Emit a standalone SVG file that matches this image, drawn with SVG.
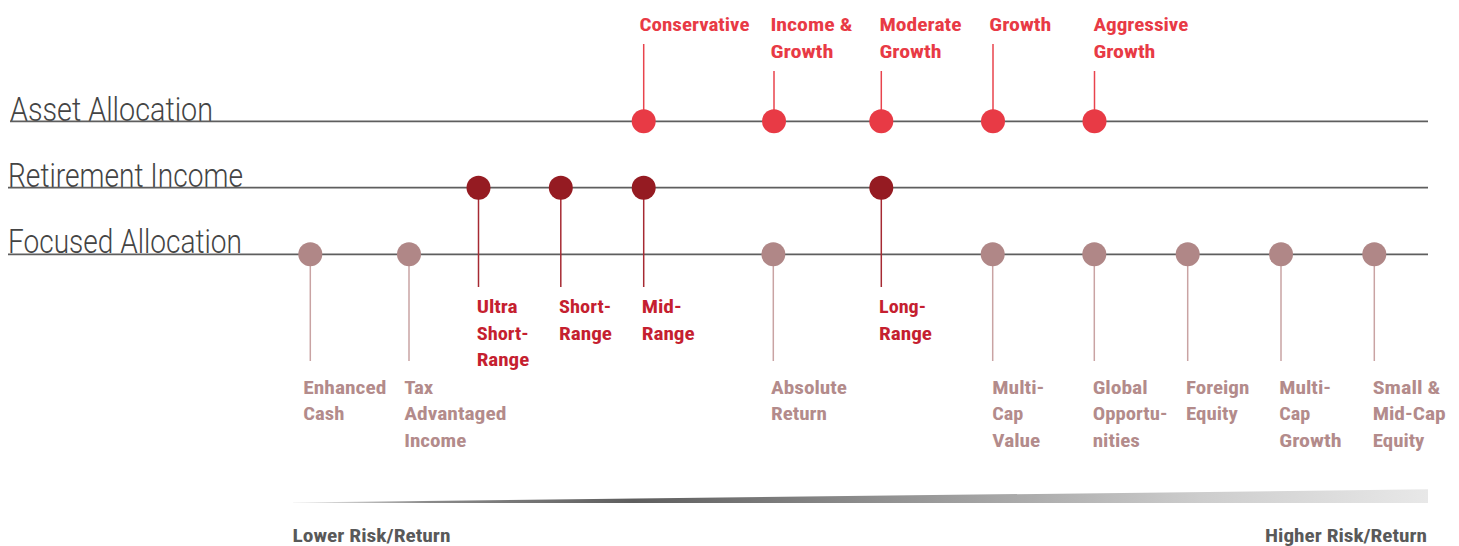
<svg xmlns="http://www.w3.org/2000/svg" width="1459" height="546" viewBox="0 0 1459 546">
<style>
.title{font-family:Roboto,"Liberation Sans",sans-serif;font-weight:300;font-size:33px;fill:#444444}
.lbl{font-family:"Roboto Condensed","Liberation Sans Narrow",Roboto,"Liberation Sans",sans-serif;font-weight:700;font-size:19px}
.axis{stroke:#5e5e5e;stroke-width:1.7;fill:none}
.aa{fill:#e83a45}
.ri{fill:#951b22}
.ril{fill:#c51f30}
.fa{fill:#b08787}
.fal{fill:#b38b8b}
.sa{stroke:#e8434d;stroke-width:1.5}
.sr{stroke:#a62a33;stroke-width:1.5}
.sf{stroke:#c9a3a3;stroke-width:1.5}
.rr{font-family:"Roboto Condensed","Liberation Sans Narrow",Roboto,"Liberation Sans",sans-serif;font-weight:700;font-size:18.5px;fill:#595959}
</style>
<defs>
<linearGradient id="risk" x1="293" y1="0" x2="1428" y2="0" gradientUnits="userSpaceOnUse">
<stop offset="0" stop-color="#f0f0f0"/>
<stop offset="0.12" stop-color="#8a8a8a"/>
<stop offset="0.3" stop-color="#5e5e5e"/>
<stop offset="0.5" stop-color="#8c8c8c"/>
<stop offset="0.8" stop-color="#cdcdcd"/>
<stop offset="1" stop-color="#e8e8e8"/>
</linearGradient>
</defs>

<g id="row-titles">
<text class="title" x="10" y="121" textLength="203" lengthAdjust="spacingAndGlyphs">Asset Allocation</text>
<text class="title" x="8" y="187" textLength="235" lengthAdjust="spacingAndGlyphs">Retirement Income</text>
<text class="title" x="8" y="253" textLength="234" lengthAdjust="spacingAndGlyphs">Focused Allocation</text>
</g>

<g id="connectors">
<line class="axis" x1="10" y1="121.3" x2="1428" y2="121.3"/>
<line class="axis" x1="8" y1="187.7" x2="1428" y2="187.7"/>
<line class="axis" x1="8" y1="254.3" x2="1428" y2="254.3"/>
<line class="sa" x1="643.7" y1="44" x2="643.7" y2="121"/>
<line class="sa" x1="774" y1="71" x2="774" y2="121"/>
<line class="sa" x1="881.3" y1="71" x2="881.3" y2="121"/>
<line class="sa" x1="993" y1="44" x2="993" y2="121"/>
<line class="sa" x1="1094.5" y1="71" x2="1094.5" y2="121"/>
<line class="sr" x1="478.5" y1="188" x2="478.5" y2="287"/>
<line class="sr" x1="560.8" y1="188" x2="560.8" y2="287"/>
<line class="sr" x1="643.7" y1="188" x2="643.7" y2="287"/>
<line class="sr" x1="881.3" y1="188" x2="881.3" y2="287"/>
<line class="sf" x1="310.3" y1="254" x2="310.3" y2="361"/>
<line class="sf" x1="409" y1="254" x2="409" y2="361"/>
<line class="sf" x1="773.3" y1="254" x2="773.3" y2="361"/>
<line class="sf" x1="992.7" y1="254" x2="992.7" y2="361"/>
<line class="sf" x1="1094.3" y1="254" x2="1094.3" y2="361"/>
<line class="sf" x1="1187.7" y1="254" x2="1187.7" y2="361"/>
<line class="sf" x1="1281" y1="254" x2="1281" y2="361"/>
<line class="sf" x1="1374.3" y1="254" x2="1374.3" y2="361"/>
</g>

<g id="aa-conservative"><circle class="aa" cx="643.7" cy="121.3" r="12"/><text class="lbl aa" x="639.5" y="30.5" textLength="110" lengthAdjust="spacingAndGlyphs">Conservative</text></g>
<g id="aa-income-growth"><circle class="aa" cx="774" cy="121.3" r="12"/><text class="lbl aa"><tspan x="770.4" y="30.5" textLength="82" lengthAdjust="spacingAndGlyphs">Income &amp;</tspan><tspan x="770.4" y="57.5" textLength="63" lengthAdjust="spacingAndGlyphs">Growth</tspan></text></g>
<g id="aa-moderate-growth"><circle class="aa" cx="881.3" cy="121.3" r="12"/><text class="lbl aa"><tspan x="879.5" y="30.5" textLength="82" lengthAdjust="spacingAndGlyphs">Moderate</tspan><tspan x="879.5" y="57.5" textLength="62" lengthAdjust="spacingAndGlyphs">Growth</tspan></text></g>
<g id="aa-growth"><circle class="aa" cx="993" cy="121.3" r="12"/><text class="lbl aa" x="989.3" y="30.5" textLength="62" lengthAdjust="spacingAndGlyphs">Growth</text></g>
<g id="aa-aggressive-growth"><circle class="aa" cx="1094.5" cy="121.3" r="12"/><text class="lbl aa"><tspan x="1093.4" y="30.5" textLength="95" lengthAdjust="spacingAndGlyphs">Aggressive</tspan><tspan x="1093.4" y="57.5" textLength="62" lengthAdjust="spacingAndGlyphs">Growth</tspan></text></g>

<g id="ri-ultra-short"><circle class="ri" cx="478.5" cy="187.7" r="12"/><text class="lbl ril"><tspan x="476.7" y="313" textLength="41" lengthAdjust="spacingAndGlyphs">Ultra</tspan><tspan x="476.7" y="339.5" textLength="52" lengthAdjust="spacingAndGlyphs">Short-</tspan><tspan x="476.7" y="366" textLength="52.6" lengthAdjust="spacingAndGlyphs">Range</tspan></text></g>
<g id="ri-short"><circle class="ri" cx="560.8" cy="187.7" r="12"/><text class="lbl ril"><tspan x="559" y="313" textLength="52" lengthAdjust="spacingAndGlyphs">Short-</tspan><tspan x="559" y="339.5" textLength="53" lengthAdjust="spacingAndGlyphs">Range</tspan></text></g>
<g id="ri-mid"><circle class="ri" cx="643.7" cy="187.7" r="12"/><text class="lbl ril"><tspan x="641.7" y="313" textLength="40" lengthAdjust="spacingAndGlyphs">Mid-</tspan><tspan x="641.7" y="339.5" textLength="53" lengthAdjust="spacingAndGlyphs">Range</tspan></text></g>
<g id="ri-long"><circle class="ri" cx="881.3" cy="187.7" r="12"/><text class="lbl ril"><tspan x="879" y="313" textLength="47" lengthAdjust="spacingAndGlyphs">Long-</tspan><tspan x="879" y="339.5" textLength="53" lengthAdjust="spacingAndGlyphs">Range</tspan></text></g>

<g id="fa-enhanced-cash"><circle class="fa" cx="310.3" cy="254.3" r="12"/><text class="lbl fal"><tspan x="303.3" y="393.5" textLength="83" lengthAdjust="spacingAndGlyphs">Enhanced</tspan><tspan x="303.3" y="420" textLength="41" lengthAdjust="spacingAndGlyphs">Cash</tspan></text></g>
<g id="fa-tax-advantaged"><circle class="fa" cx="409" cy="254.3" r="12"/><text class="lbl fal"><tspan x="404.3" y="393.5" textLength="29" lengthAdjust="spacingAndGlyphs">Tax</tspan><tspan x="404.3" y="420" textLength="102" lengthAdjust="spacingAndGlyphs">Advantaged</tspan><tspan x="404.3" y="446.5" textLength="62" lengthAdjust="spacingAndGlyphs">Income</tspan></text></g>
<g id="fa-absolute-return"><circle class="fa" cx="773.3" cy="254.3" r="12"/><text class="lbl fal"><tspan x="771" y="393.5" textLength="76" lengthAdjust="spacingAndGlyphs">Absolute</tspan><tspan x="771" y="420" textLength="56" lengthAdjust="spacingAndGlyphs">Return</tspan></text></g>
<g id="fa-multicap-value"><circle class="fa" cx="992.7" cy="254.3" r="12"/><text class="lbl fal"><tspan x="992.3" y="393.5" textLength="52" lengthAdjust="spacingAndGlyphs">Multi-</tspan><tspan x="992.3" y="420" textLength="31" lengthAdjust="spacingAndGlyphs">Cap</tspan><tspan x="992.3" y="446.5" textLength="48" lengthAdjust="spacingAndGlyphs">Value</tspan></text></g>
<g id="fa-global"><circle class="fa" cx="1094.3" cy="254.3" r="12"/><text class="lbl fal"><tspan x="1092.7" y="393.5" textLength="55" lengthAdjust="spacingAndGlyphs">Global</tspan><tspan x="1092.7" y="420" textLength="74.7" lengthAdjust="spacingAndGlyphs">Opportu-</tspan><tspan x="1092.7" y="446.5" textLength="47.3" lengthAdjust="spacingAndGlyphs">nities</tspan></text></g>
<g id="fa-foreign-equity"><circle class="fa" cx="1187.7" cy="254.3" r="12"/><text class="lbl fal"><tspan x="1186" y="393.5" textLength="63.3" lengthAdjust="spacingAndGlyphs">Foreign</tspan><tspan x="1186" y="420" textLength="51.7" lengthAdjust="spacingAndGlyphs">Equity</tspan></text></g>
<g id="fa-multicap-growth"><circle class="fa" cx="1281" cy="254.3" r="12"/><text class="lbl fal"><tspan x="1279.3" y="393.5" textLength="51.7" lengthAdjust="spacingAndGlyphs">Multi-</tspan><tspan x="1279.3" y="420" textLength="31" lengthAdjust="spacingAndGlyphs">Cap</tspan><tspan x="1279.3" y="446.5" textLength="62.3" lengthAdjust="spacingAndGlyphs">Growth</tspan></text></g>
<g id="fa-small-mid-cap"><circle class="fa" cx="1374.3" cy="254.3" r="12"/><text class="lbl fal"><tspan x="1372.7" y="393.5" textLength="67.7" lengthAdjust="spacingAndGlyphs">Small &amp;</tspan><tspan x="1372.7" y="420" textLength="73" lengthAdjust="spacingAndGlyphs">Mid-Cap</tspan><tspan x="1372.7" y="446.5" textLength="51.7" lengthAdjust="spacingAndGlyphs">Equity</tspan></text></g>

<g id="risk-scale">
<polygon points="293,502.6 1428,489.3 1428,503 293,503" fill="url(#risk)"/>
<text class="rr" x="292.5" y="542" textLength="158" lengthAdjust="spacingAndGlyphs">Lower Risk/Return</text>
<text class="rr" x="1265" y="542" textLength="162" lengthAdjust="spacingAndGlyphs">Higher Risk/Return</text>
</g>
</svg>
